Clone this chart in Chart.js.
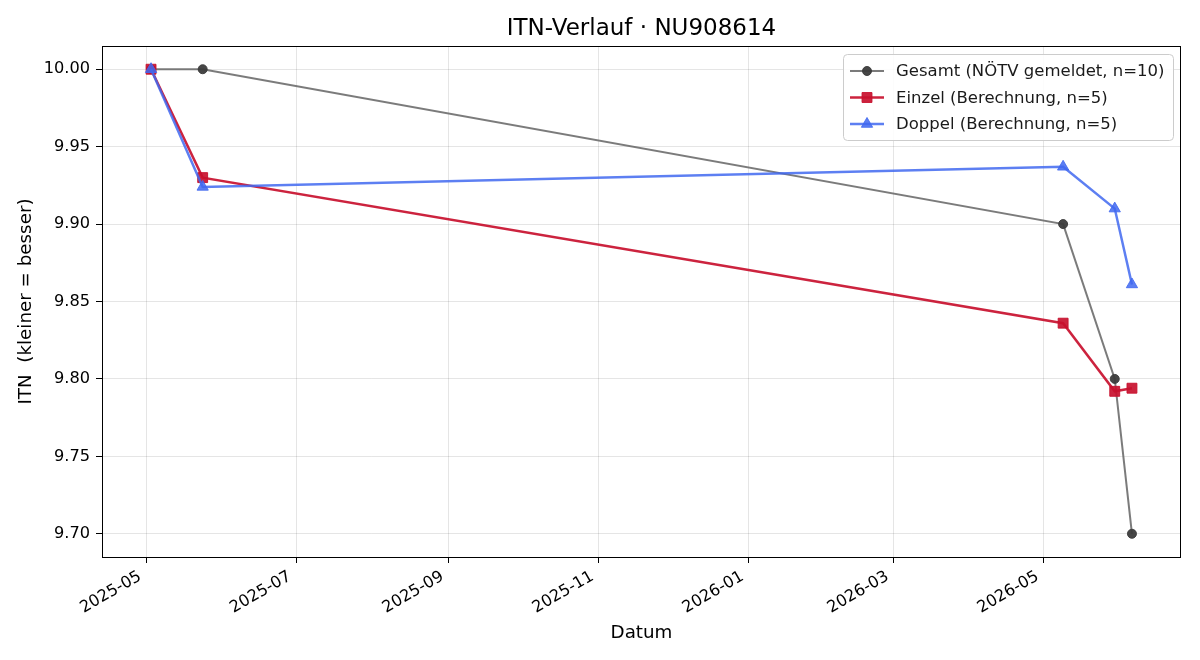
<!DOCTYPE html>
<html>
<head>
<meta charset="utf-8">
<title>ITN-Verlauf</title>
<script src="https://cdn.jsdelivr.net/npm/chart.js@4.4.1/dist/chart.umd.min.js"></script>
<style>
  html, body { margin: 0; padding: 0; background: #fff; }
  canvas { display: block; }
</style>
</head>
<body>
<canvas id="chart" width="1200" height="660"></canvas>
<script>
// Daten
const dates = ["2025-05-03", "2025-05-24", "2026-05-09", "2026-05-30", "2026-06-06"];
const gesamtValues = [10.00, 10.00, 9.90, 9.80, 9.70];
const einzelValues = [10.00, 9.930, 9.836, 9.792, 9.794];
const doppelValues = [10.00, 9.924, 9.937, 9.910, 9.861];
const seriesNames = ["Gesamt (NÖTV gemeldet, n=10)", "Einzel (Berechnung, n=5)", "Doppel (Berechnung, n=5)"];

const xTickDates = ["2025-05-01", "2025-07-01", "2025-09-01", "2025-11-01", "2026-01-01", "2026-03-01", "2026-05-01"];
const xTickLabels = ["2025-05", "2025-07", "2025-09", "2025-11", "2026-01", "2026-03", "2026-05"];
const yTicks = [9.70, 9.75, 9.80, 9.85, 9.90, 9.95, 10.00];

const FONT = "DejaVu Sans";

// Datum -> Tage seit 1970
const toDay = s => Date.UTC(+s.slice(0, 4), +s.slice(5, 7) - 1, +s.slice(8, 10)) / 864e5;
const xDays = dates.map(toDay);
const xTickDays = xTickDates.map(toDay);

const allY = gesamtValues.concat(einzelValues, doppelValues);
const yLo = Math.min(...allY), yHi = Math.max(...allY);
const xLo = Math.min(...xDays), xHi = Math.max(...xDays);
const xPad = (xHi - xLo) * 0.05, yPad = (yHi - yLo) * 0.05;

const points = vals => vals.map((v, i) => ({ x: xDays[i], y: v }));

const styles = [
    { line: "rgba(100,100,100,0.85)", marker: "rgba(60,60,60,0.95)", shape: "circle", radius: 4.5, width: 2 },
    { line: "rgba(200,16,46,0.92)", marker: "rgba(200,16,46,0.92)", shape: "rect", radius: 7, width: 2.5 },
    { line: "rgba(65,105,240,0.85)", marker: "rgba(65,105,240,0.85)", shape: "triangle", radius: 6.5, width: 2.5 }
];

const datasets = [gesamtValues, einzelValues, doppelValues].map((vals, i) => ({
    label: seriesNames[i],
    data: points(vals),
    borderColor: styles[i].line,
    borderWidth: styles[i].width,
    pointStyle: styles[i].shape,
    pointRadius: styles[i].radius,
    pointBackgroundColor: styles[i].marker,
    pointBorderColor: styles[i].marker,
    pointBorderWidth: 1,
    tension: 0,
    fill: false,
    order: 3 - i
}));

// Rahmen, Titel und Legende selbst zeichnen (matplotlib-Look)
const framePlugin = {
    id: "frame",
    afterDatasetsDraw(chart) {
        const { ctx, chartArea: a } = chart;
        ctx.save();
        ctx.strokeStyle = "#000";
        ctx.lineWidth = 1;
        ctx.strokeRect(Math.round(a.left) + 0.5, Math.round(a.top) + 0.5,
            Math.round(a.right - a.left) - 1, Math.round(a.bottom - a.top));

        // Legende
        const bx = 843, by = 54, bw = 330, bh = 86;
        ctx.beginPath();
        ctx.roundRect(bx + 0.5, by + 0.5, bw, bh, 4);
        ctx.fillStyle = "rgba(255,255,255,0.85)";
        ctx.fill();
        ctx.strokeStyle = "#cccccc";
        ctx.stroke();

        ctx.font = "16.5px '" + FONT + "'";
        ctx.textBaseline = "middle";
        ctx.textAlign = "left";
        seriesNames.forEach((name, i) => {
            const y = 71 + i * 26.5;
            const st = styles[i];
            ctx.strokeStyle = st.line;
            ctx.lineWidth = st.width;
            ctx.beginPath();
            ctx.moveTo(850, y);
            ctx.lineTo(884, y);
            ctx.stroke();
            ctx.fillStyle = st.marker;
            ctx.strokeStyle = st.marker;
            ctx.lineWidth = 1;
            Chart.helpers.drawPoint(ctx, { pointStyle: st.shape, radius: st.radius, borderWidth: 1, rotation: 0 }, 867, y);
            ctx.fillStyle = "#1a1a1a";
            ctx.fillText(name, 896, y + 1);
        });

        // Titel
        ctx.fillStyle = "#000";
        ctx.font = "23px '" + FONT + "'";
        ctx.textAlign = "center";
        ctx.fillText("ITN-Verlauf · NU908614", (a.left + a.right) / 2, 29);
        ctx.restore();
    }
};

const ctx = document.getElementById("chart").getContext("2d");
new Chart(ctx, {
    type: "line",
    data: { datasets },
    plugins: [framePlugin],
    options: {
        responsive: false,
        animation: false,
        devicePixelRatio: 1,
        layout: { padding: { top: 46, right: 19, left: 0, bottom: 0 } },
        plugins: {
            legend: { display: false },
            title: { display: false },
            tooltip: { enabled: false }
        },
        scales: {
            x: {
                type: "linear",
                min: xLo - xPad,
                max: xHi + xPad,
                afterBuildTicks: scale => { scale.ticks = xTickDays.map(v => ({ value: v })); },
                afterFit: scale => { scale.height = 103; },
                ticks: {
                    autoSkip: false,
                    minRotation: 30,
                    maxRotation: 30,
                    padding: 4,
                    labelOffset: -6,
                    color: "#000",
                    font: { family: FONT, size: 16.2 },
                    callback: v => xTickLabels[xTickDays.indexOf(v)]
                },
                grid: { color: "rgba(0,0,0,0.1)", tickColor: "#000", tickLength: 6, tickWidth: 1 },
                border: { display: false },
                title: { display: true, text: "Datum", color: "#000", font: { family: FONT, size: 18.3 }, padding: { bottom: 16 } }
            },
            y: {
                type: "linear",
                min: yLo - yPad,
                max: yHi + yPad,
                afterBuildTicks: scale => { scale.ticks = yTicks.map(v => ({ value: v })); },
                afterFit: scale => { scale.width = 102; },
                ticks: {
                    padding: 6,
                    color: "#000",
                    font: { family: FONT, size: 16.2 },
                    callback: v => v.toFixed(2)
                },
                grid: { color: "rgba(0,0,0,0.1)", tickColor: "#000", tickLength: 6, tickWidth: 1 },
                border: { display: false },
                title: { display: true, text: "ITN  (kleiner = besser)", color: "#000", font: { family: FONT, size: 18.3 }, padding: { top: 15 } }
            }
        }
    }
});
</script>
</body>
</html>
